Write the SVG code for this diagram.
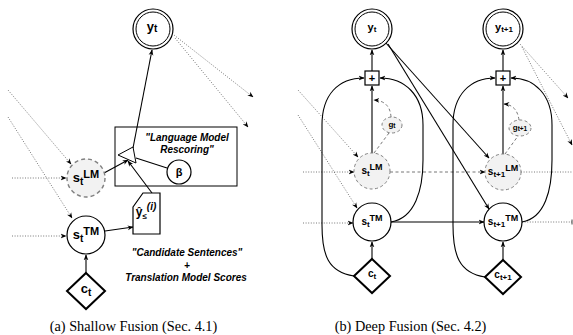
<svg xmlns="http://www.w3.org/2000/svg" width="573" height="335" viewBox="0 0 573 335">
<style>
.lbl{font-family:"Liberation Sans",Arial,sans-serif;font-weight:bold;fill:#000;text-anchor:middle}
.note{font-family:"Liberation Sans",Arial,sans-serif;font-weight:bold;font-style:italic;font-size:10px;fill:#000;text-anchor:middle}
.cap{font-family:"Liberation Serif","Times New Roman",serif;font-size:14.3px;fill:#000;text-anchor:middle}
.solid{fill:none;stroke:#000;stroke-width:1.1}
.dot{fill:none;stroke:#555;stroke-width:0.8;stroke-dasharray:1 1.6}
.dash{fill:none;stroke:#777;stroke-width:1;stroke-dasharray:3 2.5}
.node{fill:#fff;stroke:#000;stroke-width:1.2}
.lm{fill:#f2f2f2;stroke:#808080;stroke-width:1.4;stroke-dasharray:4 3}
.lmr{fill:#f2f2f2;stroke:#808080;stroke-width:1;stroke-dasharray:3 2.5}
.dia{fill:#fff;stroke:#000;stroke-width:2}
</style>
<defs>
<marker id="arr" viewBox="0 0 10 10" refX="9" refY="5" markerWidth="6" markerHeight="6" orient="auto" markerUnits="userSpaceOnUse"><path d="M0,1 L10,5 L0,9 L3,5 z" fill="#000"/></marker>
<marker id="tick" viewBox="0 0 4 10" refX="2" refY="5" markerWidth="2" markerHeight="6" orient="auto" markerUnits="userSpaceOnUse"><path d="M2,0 L2,10" stroke="#000" stroke-width="1.5"/></marker>
</defs>

<!-- connectors -->
<g id="connectors">
  <!-- (a) shallow fusion -->
  <path class="dot" d="M174,35 L253,97" marker-end="url(#arr)"/>
  <path class="dot" d="M175,38 L248,127" marker-end="url(#arr)"/>
  <path class="dot" d="M8,90 L71,164" marker-end="url(#arr)"/>
  <path class="dot" d="M8,117 L72,218" marker-end="url(#arr)"/>
  <path class="dot" d="M12,178 L66,178" marker-end="url(#arr)"/>
  <path class="dot" d="M12,236 L66,236" marker-end="url(#arr)"/>
  <path class="solid" d="M86,273 L86,255" marker-end="url(#arr)"/>
  <path class="solid" d="M133,148 L152,50" marker-end="url(#arr)"/>
  <path class="solid" d="M104,173 L128,160" marker-end="url(#arr)"/>
  <path class="solid" d="M167,168 L136,158"/>
  <path class="solid" d="M105,231 L133,227" marker-end="url(#arr)"/>
  <path class="solid" d="M152,193 L128,161" marker-end="url(#arr)"/>

  <!-- (b) deep fusion -->
  <path class="solid" d="M372,71 L372,50" marker-end="url(#arr)"/>
  <path class="solid" d="M503,71 L503,50" marker-end="url(#arr)"/>
  <path class="solid" d="M372,153 L372,86" marker-end="url(#arr)"/>
  <path class="solid" d="M503,154 L503,86" marker-end="url(#arr)"/>
  <path class="dash" d="M374,153 L389,133"/>
  <path class="dash" d="M391,117 Q390,101 374,100" marker-end="url(#arr)"/>
  <path class="dash" d="M505,154 L518,136"/>
  <path class="dash" d="M519,120 Q517,105 504,104" marker-end="url(#arr)"/>
  <path class="solid" d="M372,259 L372,242" marker-end="url(#arr)"/>
  <path class="solid" d="M503,260 L503,242" marker-end="url(#arr)"/>
  <path class="solid" d="M391,222 L484,222" marker-end="url(#arr)"/>
  <path class="dash" d="M390,172 L485,172" marker-end="url(#arr)"/>
  <path class="dot" d="M298,90 L358,157" marker-end="url(#arr)"/>
  <path class="dot" d="M298,115 L357,208" marker-end="url(#arr)"/>
  <path class="dot" d="M303,172 L354,172" marker-end="url(#arr)"/>
  <path class="dot" d="M303,223 L353,223" marker-end="url(#arr)"/>
  <path class="dot" d="M521,172 L573,172"/>
  <path class="dot" d="M522,222 L572,222" marker-end="url(#tick)"/>
  <path class="solid" d="M385,42 L489,158" marker-end="url(#arr)"/>
  <path class="solid" d="M388,44 L489,209" marker-end="url(#arr)"/>
  <path class="dot" d="M520,44 L568,98" marker-end="url(#arr)"/>
  <path class="dot" d="M522,47 L572,145" marker-end="url(#arr)"/>
  <path class="solid" d="M354,276 C328,272 322,255 322,225 L322,125 C322,95 338,78 364,78" marker-end="url(#arr)"/>
  <path class="solid" d="M391,222 C415,218 423,190 423,160 L423,125 C423,95 405,78 380,78" marker-end="url(#arr)"/>
  <path class="solid" d="M485,277 C459,273 453,255 453,225 L453,125 C453,95 470,78 495,78" marker-end="url(#arr)"/>
  <path class="solid" d="M522,222 C545,218 552,190 552,160 L552,125 C552,95 535,78 511,78" marker-end="url(#arr)"/>
</g>

<!-- (a) nodes -->
<g id="a_yt">
  <circle cx="153" cy="29" r="20" class="node" stroke-width="1"/>
  <circle cx="153" cy="29" r="17" fill="none" stroke="#000" stroke-width="1"/>
  <text class="lbl" x="152" y="31" font-size="13">y<tspan font-size="10" dy="1">t</tspan></text>
</g>
<g id="a_box">
  <rect x="115" y="127" width="122" height="59" fill="none" stroke="#000" stroke-width="1"/>
  <text class="note" x="187" y="141">"Language Model</text>
  <text class="note" x="187" y="153">Rescoring"</text>
</g>
<g id="a_combine">
  <polygon points="118,155 133,147 136,163" fill="#fff" stroke="#000" stroke-width="1"/>
</g>
<g id="a_beta">
  <circle cx="179" cy="172" r="12" class="node" stroke-width="1"/>
  <text class="lbl" x="179" y="176" font-size="11">β</text>
</g>
<g id="a_sLM">
  <circle cx="86" cy="178" r="19" class="lm"/>
  <text class="lbl" x="86" y="182" font-size="13">s<tspan font-size="10" dy="3">t</tspan><tspan font-size="11" dy="-7">LM</tspan></text>
</g>
<g id="a_sTM">
  <circle cx="86" cy="235" r="19" class="node"/>
  <text class="lbl" x="86" y="239" font-size="13">s<tspan font-size="10" dy="3">t</tspan><tspan font-size="11" dy="-7">TM</tspan></text>
</g>
<g id="a_ct">
  <polygon points="86,273 105,291 86,309 67,291" class="dia"/>
  <text class="lbl" x="86" y="293" font-size="13">c<tspan font-size="10" dy="3">t</tspan></text>
</g>
<g id="a_cand">
  <polygon points="133,207 143,193 160,193 160,234 133,234" class="node" stroke-width="1"/>
  <text class="lbl" x="146" y="216" font-size="12">ŷ<tspan font-size="8" dy="3">≤</tspan><tspan font-size="10" font-style="italic" dy="-9">(i)</tspan></text>
</g>
<g id="a_notes">
  <text class="note" x="187" y="256">"Candidate Sentences"</text>
  <text class="note" x="187" y="269">+</text>
  <text class="note" x="186" y="281">Translation Model Scores</text>
</g>

<!-- (b) nodes -->
<g id="b_yt">
  <circle cx="372" cy="29" r="20" class="node" stroke-width="1"/>
  <circle cx="372" cy="29" r="17" fill="none" stroke="#000" stroke-width="1"/>
  <text class="lbl" x="372" y="31" font-size="11">y<tspan font-size="8" dy="1">t</tspan></text>
</g>
<g id="b_yt1">
  <circle cx="503" cy="29" r="20" class="node" stroke-width="1"/>
  <circle cx="503" cy="29" r="17" fill="none" stroke="#000" stroke-width="1"/>
  <text class="lbl" x="504" y="31" font-size="11">y<tspan font-size="8" dy="1">t+1</tspan></text>
</g>
<g id="b_plus_t">
  <rect x="365" y="71" width="14" height="14" class="node" stroke-width="1.4"/>
  <text class="lbl" x="372" y="82" font-size="11">+</text>
</g>
<g id="b_plus_t1">
  <rect x="496" y="71" width="14" height="14" class="node" stroke-width="1.4"/>
  <text class="lbl" x="503" y="82" font-size="11">+</text>
</g>
<g id="b_gt">
  <ellipse cx="392" cy="125" rx="10" ry="8" class="lmr"/>
  <text class="lbl" x="392" y="127" font-size="8">g<tspan font-size="6.5" dy="1">t</tspan></text>
</g>
<g id="b_gt1">
  <ellipse cx="520" cy="128" rx="11" ry="8" class="lmr"/>
  <text class="lbl" x="520" y="130" font-size="8">g<tspan font-size="6.5" dy="1">t+1</tspan></text>
</g>
<g id="b_sLM">
  <circle cx="372" cy="171" r="18" class="lmr"/>
  <text class="lbl" x="372" y="174" font-size="10">s<tspan font-size="8" dy="2">t</tspan><tspan font-size="9" dy="-6">LM</tspan></text>
</g>
<g id="b_sLM1">
  <circle cx="503" cy="172" r="18" class="lmr"/>
  <text class="lbl" x="503" y="175" font-size="10">s<tspan font-size="8" dy="2">t+1</tspan><tspan font-size="9" dy="-6">LM</tspan></text>
</g>
<g id="b_sTM">
  <circle cx="372" cy="222" r="19" class="node"/>
  <text class="lbl" x="372" y="225" font-size="10">s<tspan font-size="8" dy="2">t</tspan><tspan font-size="9" dy="-6">TM</tspan></text>
</g>
<g id="b_sTM1">
  <circle cx="503" cy="222" r="19" class="node"/>
  <text class="lbl" x="503" y="225" font-size="10">s<tspan font-size="8" dy="2">t+1</tspan><tspan font-size="9" dy="-6">TM</tspan></text>
</g>
<g id="b_ct">
  <polygon points="372,259 390,276 372,293 354,276" class="dia"/>
  <text class="lbl" x="372" y="277" font-size="10">c<tspan font-size="8" dy="2">t</tspan></text>
</g>
<g id="b_ct1">
  <polygon points="503,260 521,277 503,294 485,277" class="dia"/>
  <text class="lbl" x="503" y="278" font-size="10">c<tspan font-size="8" dy="2">t+1</tspan></text>
</g>

<text class="cap" x="133.5" y="331">(a) Shallow Fusion (Sec. 4.1)</text>
<text class="cap" x="410.5" y="331">(b) Deep Fusion (Sec. 4.2)</text>
</svg>
